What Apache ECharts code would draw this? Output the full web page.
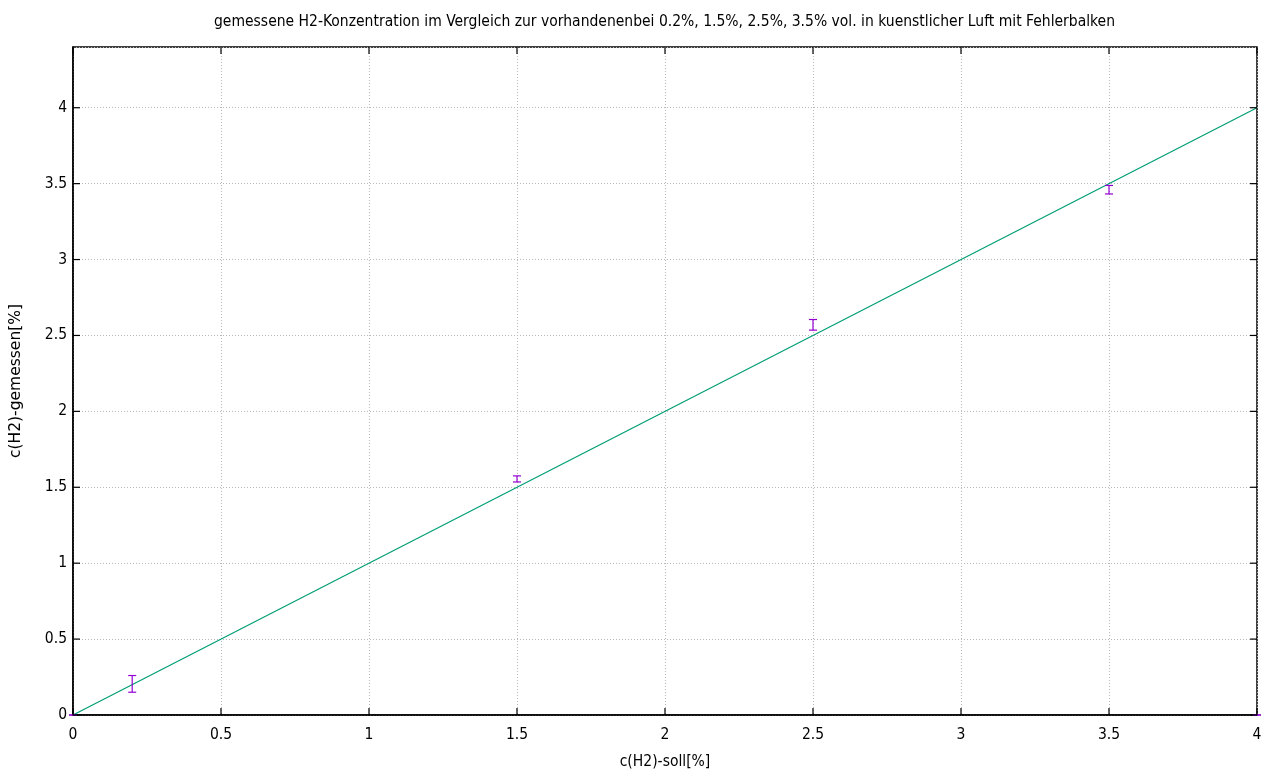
<!DOCTYPE html>
<html><head><meta charset="utf-8">
<script src="https://cdn.jsdelivr.net/npm/echarts@6/dist/echarts.min.js"></script>
<style>html,body{margin:0;padding:0;background:#fff}#c{width:1264px;height:769px}</style>
</head><body><div id="c"></div>
<script>
const soll = [0, 0.2, 1.5, 2.5, 3.5, 4];
const gemessen = [0, 0.205, 1.555, 2.57, 3.46, 0];
const fehler = [0, 0.055, 0.02, 0.035, 0.028, 0];
const refX = [0, 4];
const refY = [0, 4];
const xTicks = [0, 0.5, 1, 1.5, 2, 2.5, 3, 3.5, 4];
const yTicks = [0, 0.5, 1, 1.5, 2, 2.5, 3, 3.5, 4];

const chart = echarts.init(document.getElementById('c'));
const font = 'DejaVu Sans Condensed';
const errData = soll.map((x, i) => [x, gemessen[i], gemessen[i] - fehler[i], gemessen[i] + fehler[i]]);
const fmt = v => { const ok = yTicks.some(t => Math.abs(t - v) < 1e-9); return ok ? String(v) : ''; };
const X_MIN = 0, X_MAX = 4, Y_MIN = 0, Y_MAX = 4.4;
const tickData = xTicks.map(v => ['x', v]).concat(yTicks.map(v => ['y', v]));
chart.setOption({
  animation: false,
  title: { text: 'gemessene H2-Konzentration im Vergleich zur vorhandenenbei 0.2%, 1.5%, 2.5%, 3.5% vol. in kuenstlicher Luft mit Fehlerbalken',
    left: 209, top: 9, textStyle: { fontFamily: font, fontSize: 15.5, fontWeight: 'normal', color: '#000' } },
  grid: { left: 73, right: 7, top: 47, bottom: 54, outerBoundsMode: 'none', containLabel: false,
    show: true, borderColor: '#000', borderWidth: 1.5, backgroundColor: 'transparent' },
  xAxis: [{
    type: 'value', min: X_MIN, max: X_MAX, interval: 0.5,
    name: 'c(H2)-soll[%]', nameLocation: 'middle', nameGap: 39,
    nameTextStyle: { fontFamily: font, fontSize: 15.5, color: '#000' },
    axisLine: { show: true, lineStyle: { color: '#000', width: 1.5 } },
    axisTick: { show: false },
    axisLabel: { fontFamily: font, fontSize: 15.5, color: '#000', margin: 12, formatter: v => fmt(v) },
    splitLine: { show: true, lineStyle: { color: '#b8b8b8', type: [1, 2], width: 1 } }
  }],
  yAxis: [{
    type: 'value', min: Y_MIN, max: Y_MAX, interval: 0.5,
    name: 'c(H2)-gemessen[%]', nameLocation: 'middle', nameGap: 49,
    nameTextStyle: { fontFamily: 'DejaVu Sans', fontSize: 15.5, color: '#000' },
    axisLine: { show: true, lineStyle: { color: '#000', width: 1.5 } },
    axisTick: { show: false },
    axisLabel: { fontFamily: font, fontSize: 15.5, color: '#000', margin: 6, formatter: v => fmt(v), showMaxLabel: false },
    splitLine: { show: true, lineStyle: { color: '#b8b8b8', type: [1, 2], width: 1 } }
  }],
  series: [{
    type: 'line', data: refX.map((x, i) => [x, refY[i]]), showSymbol: false,
    lineStyle: { color: '#009e73', width: 1.2 }, z: 3
  }, {
    type: 'custom', data: tickData, z: 5, silent: true,
    renderItem: (params, api) => {
      const axis = tickData[params.dataIndex][0];
      const v = tickData[params.dataIndex][1];
      const L = 7;
      const st = { stroke: '#000', lineWidth: 1.2 };
      if (axis === 'x') {
        const b = api.coord([v, Y_MIN]), t = api.coord([v, Y_MAX]);
        return { type: 'group', children: [
          { type: 'line', shape: { x1: b[0], y1: b[1], x2: b[0], y2: b[1] - L }, style: st },
          { type: 'line', shape: { x1: t[0], y1: t[1], x2: t[0], y2: t[1] + L }, style: st }
        ]};
      }
      const l = api.coord([X_MIN, v]), r = api.coord([X_MAX, v]);
      return { type: 'group', children: [
        { type: 'line', shape: { x1: l[0], y1: l[1], x2: l[0] + L, y2: l[1] }, style: st },
        { type: 'line', shape: { x1: r[0], y1: r[1], x2: r[0] - L, y2: r[1] }, style: st }
      ]};
    }
  }, {
    type: 'custom', data: errData, z: 4,
    renderItem: (params, api) => {
      const x = api.value(0), lo = api.value(2), hi = api.value(3);
      const pLo = api.coord([x, lo]), pHi = api.coord([x, hi]);
      const w = 4;
      const st = { stroke: '#9400d3', lineWidth: 1.2 };
      return { type: 'group', children: [
        { type: 'line', shape: { x1: pLo[0], y1: pLo[1], x2: pHi[0], y2: pHi[1] }, style: st },
        { type: 'line', shape: { x1: pLo[0] - w, y1: pLo[1], x2: pLo[0] + w, y2: pLo[1] }, style: st },
        { type: 'line', shape: { x1: pHi[0] - w, y1: pHi[1], x2: pHi[0] + w, y2: pHi[1] }, style: st }
      ]};
    }
  }]
});
</script></body></html>
